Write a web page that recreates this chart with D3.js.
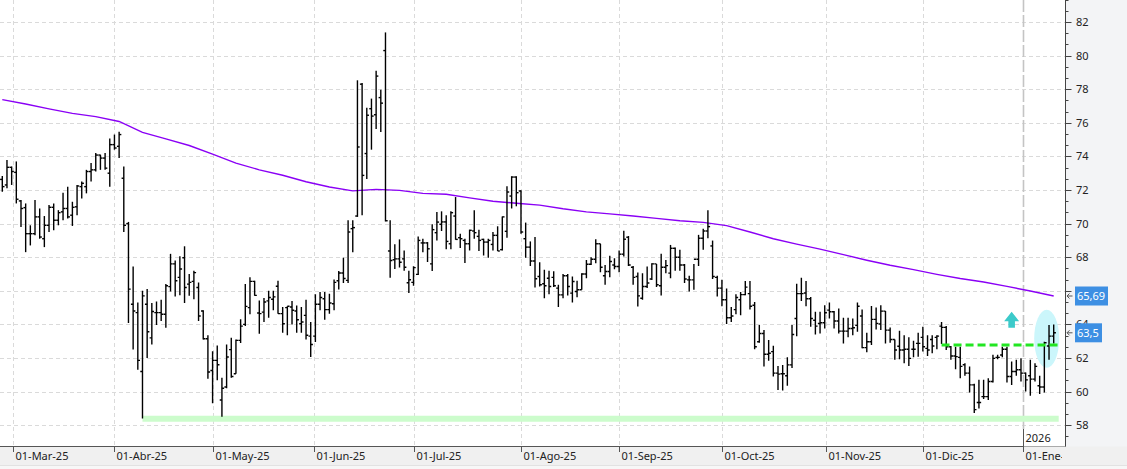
<!DOCTYPE html>
<html>
<head>
<meta charset="utf-8">
<script src="https://cdn.jsdelivr.net/npm/d3@7"></script>
<style>
  html, body { margin: 0; padding: 0; background: #fff; overflow: hidden; }
  svg text { font-family: "Noto Sans", "Open Sans", sans-serif; }
</style>
</head>
<body>
<script>
// trading calendar: weekdays between these two days, minus exchange holidays
const firstDay = '2025-02-26'
const lastDay = '2026-01-12'
const holidays = ['2025-04-18', '2025-12-25', '2026-01-01']

// daily OHLC, one entry per trading day
const opens = [72.63,72.3,73.35,73.05,71.35,70.95,69.4,69.4,70.4,69.1,69.9,70.97,70.2,70.7,70.9,70.5,71.0,72.2,72.2,73.1,73.2,74.08,73.9,73.0,74.7,74.6,72.7,70.0,65.2,64.7,61.2,65.2,63.2,64.7,64.7,64.6,66.25,67.6,
  66.8,67.97,66.4,66.56,66.2,64.8,63.15,61.26,61.86,59.5,60.27,62.5,61.06,63.05,64.0,65.0,66.56,64.68,64.73,65.4,65.5,66.27,64.64,65.0,65.04,64.8,64.04,64.54,63.3,63.3,65.2,65.53,64.88,65.23,66.6,67.06,66.62,69.7,
  70.45,78.3,74.17,76.84,76.48,77.5,80.3,68.37,67.85,67.9,67.9,66.48,66.5,66.98,68.85,68.85,67.6,69.46,69.96,70.1,68.8,70.45,69.16,69.0,68.8,69.56,69.24,69.06,68.9,68.76,69.3,68.45,69.54,71.64,72.77,71.94,69.1,68.6,67.77,
  66.85,66.42,66.75,66.8,66.16,65.76,66.9,65.86,65.96,66.06,67.0,67.58,67.88,68.8,66.9,67.15,67.54,67.45,68.18,69.19,67.4,66.85,65.56,66.26,66.7,67.6,66.3,67.4,67.05,68.53,68.0,67.54,66.65,66.65,67.88,69.13,69.56,68.67,66.8,
  66.16,65.47,64.4,64.88,65.47,65.77,65.83,65.14,62.97,63.46,62.22,62.38,61.1,61.06,60.94,61.59,64.35,65.83,65.87,65.53,64.25,64.05,64.1,64.85,64.75,64.2,63.6,63.6,63.76,63.94,64.5,62.62,62.97,64.3,64.02,64.79,63.66,63.1,
  62.7,62.48,62.52,62.52,62.87,63.23,62.57,63.1,63.23,63.9,63.82,62.67,62.12,62.04,61.6,61.1,60.4,59.35,59.7,59.7,60.6,62.04,62.18,62.52,60.9,61.2,61.3,61.1,60.94,60.74,60.35,60.27,62.71,63.3]
const highs = [72.83,73.78,73.4,73.7,71.4,71.2,69.9,71.4,70.9,70.45,71.1,71.2,70.8,71.84,72.2,71.3,72.3,72.5,73.2,73.6,74.2,74.1,74.2,75.07,75.3,75.47,73.4,70.1,67.45,65.3,66.0,66.1,65.27,65.37,65.47,66.4,68.2,67.8,
  68.05,68.65,67.0,67.2,66.5,64.84,63.35,62.4,62.75,60.83,62.8,63.2,63.1,64.3,66.4,66.8,66.6,65.43,65.57,66.0,66.0,66.6,65.03,65.08,65.4,65.13,65.03,65.47,64.14,65.8,65.93,65.93,65.83,66.67,67.18,67.97,70.2,70.2,
  78.53,78.37,76.9,77.44,79.1,77.97,81.38,70.2,68.77,69.06,68.4,67.2,67.46,69.23,69.1,68.9,69.96,70.69,70.73,70.5,70.73,71.58,69.4,69.1,69.64,70.8,69.64,69.1,69.1,69.5,69.84,70.43,72.22,72.82,72.82,71.98,70.06,68.94,69.2,
  67.7,67.25,67.2,67.17,66.36,67.0,67.0,66.85,66.6,67.05,67.84,68.0,69.07,68.8,67.54,68.08,67.94,68.4,69.58,69.26,67.48,67.09,67.05,67.45,67.64,67.6,68.2,67.84,68.73,68.57,68.44,67.6,66.9,67.6,69.33,69.7,70.8,68.99,66.9,
  66.66,66.13,65.04,65.79,65.93,66.58,66.58,65.34,63.96,63.66,63.07,62.73,61.53,61.59,62.04,63.96,66.42,66.78,66.58,65.63,64.75,64.75,65.14,65.3,64.8,64.94,64.4,64.4,64.35,65.3,64.88,63.5,65.1,65.0,65.14,64.8,63.82,63.1,
  63.62,63.36,63.23,63.03,63.5,63.86,63.36,63.36,63.36,64.15,63.9,62.71,62.67,62.67,61.69,61.5,60.46,60.7,60.7,60.8,62.2,62.2,62.67,62.67,61.79,61.89,61.98,61.14,61.89,61.69,60.94,62.97,63.96,64.0]
const lows = [71.9,72.1,72.3,71.2,69.8,68.3,68.7,69.3,69.1,68.6,69.5,69.6,69.9,70.2,70.3,69.86,70.5,71.5,71.8,72.5,73.1,73.2,73.2,72.2,74.4,73.9,69.5,64.08,62.5,61.3,58.4,62.0,62.8,63.97,64.2,63.8,65.96,65.66,
  65.73,65.27,65.7,65.5,64.2,63.1,60.77,59.3,60.67,58.5,60.2,60.83,61.06,62.9,63.9,64.6,65.7,63.45,64.14,64.4,64.84,64.64,63.5,63.35,64.0,63.5,63.5,63.1,62.06,62.95,64.84,64.28,64.64,64.84,66.07,66.46,66.46,68.3,
  70.4,70.5,72.65,74.4,75.63,75.45,70.13,66.78,67.3,67.38,67.2,65.87,66.3,66.94,68.3,67.71,67.18,69.0,69.56,68.47,68.47,69.04,68.55,67.65,68.4,69.1,68.37,68.1,67.97,68.4,68.37,68.4,69.16,70.9,71.03,69.4,67.97,67.48,66.19,
  66.26,65.56,65.8,66.22,65.03,65.56,65.72,65.3,65.62,66.06,66.75,67.54,67.64,67.1,66.36,66.8,67.29,67.1,68.04,67.48,66.36,65.07,65.47,66.16,66.65,66.22,65.72,67.05,66.75,67.2,67.2,66.46,65.96,66.06,67.48,68.44,69.13,66.7,65.66,
  65.08,64.02,64.15,64.6,64.55,65.73,64.88,62.52,62.91,61.5,61.83,60.9,60.1,60.07,60.35,61.4,63.3,65.4,65.08,63.86,63.4,63.46,63.76,64.35,63.76,63.46,62.87,63.23,63.36,63.56,62.58,62.34,62.77,63.7,63.66,62.87,62.91,61.89,
  61.93,61.69,61.53,62.04,62.08,62.38,62.12,62.28,62.52,62.83,62.48,61.89,61.33,60.8,60.94,59.95,58.73,59.0,59.56,59.5,60.54,61.93,62.04,60.54,60.4,60.94,60.6,60.0,59.76,60.6,59.86,59.95,61.89,62.87]
const closes = [72.2,73.35,73.1,71.45,70.9,69.4,69.4,70.4,69.2,69.9,70.97,70.2,70.65,70.9,70.4,70.97,72.24,72.4,73.1,73.2,74.08,73.9,73.3,74.7,74.5,75.3,69.9,66.1,64.8,61.86,65.7,63.56,64.77,64.7,64.6,66.3,67.6,66.6,
  67.3,66.2,66.5,67.08,64.5,63.15,61.17,61.86,61.6,60.2,62.06,60.9,63.05,63.9,65.07,66.56,65.73,64.64,65.33,65.6,65.64,64.64,64.04,65.08,64.84,64.28,64.14,63.35,62.8,65.2,65.6,64.88,65.27,66.5,67.06,66.73,69.5,69.76,
  74.56,72.87,76.45,76.4,78.78,77.17,70.17,67.8,67.9,67.7,67.4,66.66,67.38,69.0,68.85,68.5,69.64,70.09,70.1,68.94,70.65,69.06,69.1,68.8,69.6,69.46,69.0,68.9,69.0,69.3,68.37,70.4,71.88,72.77,71.84,69.5,68.6,67.77,66.72,
  66.36,66.3,66.26,66.3,65.76,66.9,66.26,66.55,66.06,67.0,67.58,67.88,68.8,67.4,67.15,67.74,67.45,68.18,69.07,67.54,66.8,65.7,66.26,66.46,67.6,66.36,67.4,67.5,68.53,68.0,67.54,66.7,66.65,67.88,69.13,69.56,69.82,66.85,66.16,
  65.47,64.4,64.5,65.6,65.77,66.22,65.08,62.67,63.46,62.22,62.28,61.1,61.04,61.06,61.59,63.4,65.83,65.83,65.53,64.35,63.9,64.1,64.69,64.75,64.2,63.6,63.6,63.76,63.8,65.08,62.62,62.97,64.3,64.06,64.79,63.66,63.1,62.48,
  62.48,62.52,61.98,62.52,62.87,62.67,62.48,62.71,63.3,63.82,62.67,62.12,62.08,61.5,61.1,60.4,58.93,59.35,59.7,60.6,61.98,62.04,62.52,60.9,61.2,61.3,61.1,60.7,60.74,61.5,60.27,62.91,63.3,63.5]

// moving average, one value every maStep bars
const maStep = 5
const maValues = [77.38,77.12,76.83,76.56,76.37,76.08,75.43,75.04,74.65,74.14,73.6,73.2,72.88,72.49,72.18,71.95,72.04,71.98,71.8,71.75,
  71.53,71.33,71.21,71.1,70.88,70.7,70.58,70.45,70.31,70.17,70.07,69.88,69.5,69.1,68.78,68.48,68.15,67.82,67.52,67.26,66.98,66.73,66.52,66.26,65.99,65.69]

const monthNames = ['Ene','Feb','Mar','Abr','May','Jun','Jul','Ago','Sep','Oct','Nov','Dic']
const monthTicks = ['2025-03-01','2025-04-01','2025-05-01','2025-06-01','2025-07-01','2025-08-01','2025-09-01','2025-10-01','2025-11-01','2025-12-01','2026-01-01']
const yearMark = '2026-01-01'
const yTicks = [58,60,62,64,66,68,70,72,74,76,78,80,82]

// drawn annotations
const supportLevel = 58.38
const supportFrom = '2025-04-09'
const breakoutLevel = 62.77
const breakoutFrom = '2025-12-05'
const lastValues = [{ text: '65,69', value: 65.69 }, { text: '63,5', value: 63.5 }]

const width = 1127, height = 469
const plotRight = 1065.5, axisY = 446.5

// build trading days
const parse = d3.utcParse('%Y-%m-%d')
const fmtDay = d3.utcFormat('%Y-%m-%d')
const dates = d3.utcDay.range(parse(firstDay), d3.utcDay.offset(parse(lastDay), 1))
  .filter(d => d.getUTCDay() !== 0 && d.getUTCDay() !== 6 && holidays.indexOf(fmtDay(d)) === -1)

const bars = dates.map((d, i) => ({ date: d, i: i, o: opens[i], h: highs[i], l: lows[i], c: closes[i] }))

// position of any calendar date on the bar axis (interpolated between trading days)
function datePos(str) {
  const t = parse(str)
  const j = d3.bisectRight(dates, t) - 1
  if (j < 0) return 0
  if (j >= dates.length - 1) return dates.length - 1
  return j + (t - dates[j]) / (dates[j + 1] - dates[j])
}

const x = d3.scaleLinear().domain([0, dates.length - 1]).range([2.3, 1053.7])
const y = d3.scaleLinear().domain([58, 82]).range([425.2, 22])

const svg = d3.select('body').append('svg')
  .attr('width', width)
  .attr('height', height)

svg.append('rect').attr('width', width).attr('height', height).attr('fill', '#fff')

const defs = svg.append('defs')
defs.append('clipPath').attr('id', 'plot')
  .append('rect').attr('x', 0).attr('y', 0).attr('width', plotRight).attr('height', axisY)
defs.append('clipPath').attr('id', 'xlabels')
  .append('rect').attr('x', 0).attr('y', axisY).attr('width', 1062).attr('height', height - axisY)

const plot = svg.append('g').attr('clip-path', 'url(#plot)')

// horizontal grid
plot.append('g').selectAll('line')
  .data(yTicks)
  .enter().append('line')
  .attr('x1', 0).attr('x2', plotRight)
  .attr('y1', d => Math.round(y(d)) + 0.5).attr('y2', d => Math.round(y(d)) + 0.5)
  .attr('stroke', '#dadada')
  .attr('stroke-dasharray', '4,3')

// vertical grid at month starts
plot.append('g').selectAll('line')
  .data(monthTicks.filter(m => m !== yearMark))
  .enter().append('line')
  .attr('x1', d => Math.round(x(datePos(d))) + 0.5).attr('x2', d => Math.round(x(datePos(d))) + 0.5)
  .attr('y1', 0).attr('y2', axisY)
  .attr('stroke', '#dadada')
  .attr('stroke-dasharray', '4,3')

// year separator
const yearX = Math.round(x(datePos(yearMark))) + 0.5
plot.append('line')
  .attr('x1', yearX).attr('x2', yearX)
  .attr('y1', 0).attr('y2', 429)
  .attr('stroke', '#c4c4c4')
  .attr('stroke-width', 1.6)
  .attr('stroke-dasharray', '12,3')

// support band
plot.append('line')
  .attr('x1', x(datePos(supportFrom)))
  .attr('x2', x(dates.length - 1) + 5)
  .attr('y1', y(supportLevel)).attr('y2', y(supportLevel))
  .attr('stroke', '#ccfccc')
  .attr('stroke-width', 6)

// highlight ellipse around last bars
plot.append('ellipse')
  .attr('cx', x(dates.length - 2.5))
  .attr('cy', y(63.15))
  .attr('rx', 12.5)
  .attr('ry', 29)
  .attr('fill', '#cbf6fb')

// moving average
const maLine = d3.line()
  .x((d, k) => x(k * maStep))
  .y(d => y(d))
plot.append('path')
  .datum(maValues)
  .attr('d', maLine)
  .attr('fill', 'none')
  .attr('stroke', '#8a00f5')
  .attr('stroke-width', 1.4)

// OHLC bars
const g = plot.append('g').attr('stroke', '#000').attr('stroke-width', 1.4)
const bar = g.selectAll('g').data(bars).enter().append('g')
bar.append('line')
  .attr('x1', d => x(d.i)).attr('x2', d => x(d.i))
  .attr('y1', d => y(d.h)).attr('y2', d => y(d.l))
bar.append('line')
  .attr('x1', d => x(d.i) - 2.2).attr('x2', d => x(d.i))
  .attr('y1', d => y(d.o)).attr('y2', d => y(d.o))
bar.append('line')
  .attr('x1', d => x(d.i)).attr('x2', d => x(d.i) + 2.2)
  .attr('y1', d => y(d.c)).attr('y2', d => y(d.c))

// breakout level, dashed green
plot.append('line')
  .attr('x1', x(datePos(breakoutFrom)))
  .attr('x2', x(dates.length - 1) + 4.5)
  .attr('y1', y(breakoutLevel)).attr('y2', y(breakoutLevel))
  .attr('stroke', '#22e622')
  .attr('stroke-width', 3)
  .attr('stroke-dasharray', '8,4')

// up arrow
const ax = x(216), ay = y(64.75)
plot.append('path')
  .attr('d', `M${ax},${ay} L${ax + 7.5},${ay + 9.5} L${ax + 3.3},${ay + 9.5} L${ax + 3.3},${ay + 16} L${ax - 3.3},${ay + 16} L${ax - 3.3},${ay + 9.5} L${ax - 7.5},${ay + 9.5} Z`)
  .attr('fill', '#3ccaca')

// side panels
svg.append('rect').attr('x', plotRight).attr('y', 0).attr('width', width - plotRight).attr('height', height).attr('fill', '#f3f4f6')
svg.append('rect').attr('x', 0).attr('y', axisY).attr('width', width).attr('height', height - axisY).attr('fill', '#f0f0f0')
svg.append('rect').attr('x', 0).attr('y', 465).attr('width', width).attr('height', 4).attr('fill', '#f7f7f7')
svg.append('line').attr('x1', 0).attr('x2', width).attr('y1', 465.5).attr('y2', 465.5).attr('stroke', '#e2e2e2')

// x axis
svg.append('line')
  .attr('x1', 0).attr('x2', plotRight)
  .attr('y1', axisY).attr('y2', axisY)
  .attr('stroke', '#555')

const xt = svg.append('g').attr('clip-path', 'url(#xlabels)')
monthTicks.forEach(m => {
  const px = Math.round(x(datePos(m))) + 0.5
  const t = parse(m)
  xt.append('line')
    .attr('x1', px).attr('x2', px)
    .attr('y1', axisY).attr('y2', axisY + 5.5)
    .attr('stroke', '#555')
  xt.append('text')
    .attr('x', px + 2)
    .attr('y', 460)
    .attr('font-size', 11)
    .attr('fill', '#222')
    .text('01-' + monthNames[t.getUTCMonth()] + '-' + d3.utcFormat('%y')(t))
})

// year label
svg.append('rect').attr('x', yearX).attr('y', 429).attr('width', plotRight - yearX).attr('height', axisY - 429).attr('fill', '#fff')
svg.append('line')
  .attr('x1', yearX).attr('x2', yearX)
  .attr('y1', 429).attr('y2', axisY + 5)
  .attr('stroke', '#555')
svg.append('text')
  .attr('x', yearX + 2)
  .attr('y', 442)
  .attr('font-size', 11)
  .attr('fill', '#222')
  .text(yearMark.slice(0, 4))

// y axis on the right
svg.append('line')
  .attr('x1', plotRight).attr('x2', plotRight)
  .attr('y1', 0).attr('y2', axisY)
  .attr('stroke', '#444')

const minor = d3.range(57 + 1 / 3, 83.5, 2 / 3).filter(v => Math.abs(v / 2 - Math.round(v / 2)) > 0.01)
svg.append('g').selectAll('line')
  .data(minor)
  .enter().append('line')
  .attr('x1', plotRight).attr('x2', plotRight + 3)
  .attr('y1', d => Math.round(y(d)) + 0.5).attr('y2', d => Math.round(y(d)) + 0.5)
  .attr('stroke', '#444')

const yt = svg.append('g').selectAll('g')
  .data(yTicks)
  .enter().append('g')
yt.append('line')
  .attr('x1', plotRight).attr('x2', plotRight + 6)
  .attr('y1', d => Math.round(y(d)) + 0.5).attr('y2', d => Math.round(y(d)) + 0.5)
  .attr('stroke', '#444')
yt.append('text')
  .attr('x', 1076)
  .attr('y', d => y(d) + 4)
  .attr('font-size', 11)
  .attr('fill', '#222')
  .text(d => d)

// last value tags
const tags = svg.append('g').selectAll('g')
  .data(lastValues)
  .enter().append('g')
tags.append('path')
  .attr('d', d => {
    const yy = y(d.value)
    return `M1072.5,${yy} L1067,${yy} M1069.5,${yy - 2.5} L1067,${yy} L1069.5,${yy + 2.5}`
  })
  .attr('stroke', '#555')
  .attr('fill', 'none')
tags.append('rect')
  .attr('x', 1075)
  .attr('y', d => y(d.value) - 9.5)
  .attr('width', d => d.text.length > 4 ? 33 : 27)
  .attr('height', 19)
  .attr('fill', '#3d8fe3')
tags.append('text')
  .attr('x', 1077)
  .attr('y', d => y(d.value) + 4)
  .attr('font-size', 11)
  .attr('fill', '#fff')
  .text(d => d.text)
</script>
</body>
</html>
